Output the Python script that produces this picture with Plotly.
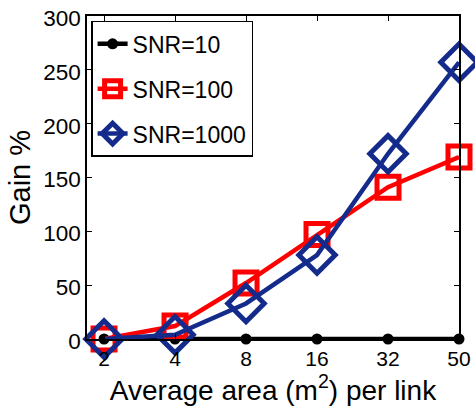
import plotly.graph_objects as go

x_labels = ["2", "4", "8", "16", "32", "50"]
snr10 = [0, 0, 0, 0, 0, 0]
snr100 = [0, 12, 52, 97, 141, 169]
snr1000 = [0, 4, 33, 78, 172, 257]

xi = list(range(1, len(x_labels) + 1))

fig = go.Figure()
fig.add_trace(go.Scatter(
    x=xi, y=snr10, name="SNR=10", mode="lines+markers",
    line=dict(color="black", width=4.5),
    marker=dict(symbol="circle", size=11, color="black"),
    legendgroup="a", cliponaxis=False))
fig.add_trace(go.Scatter(
    x=xi, y=snr100, name="SNR=100", mode="lines+markers",
    line=dict(color="#ff0000", width=4.5),
    marker=dict(symbol="square-open", size=22, color="#ff0000", line=dict(width=5, color="#ff0000")),
    legendgroup="b", cliponaxis=False))
fig.add_trace(go.Scatter(
    x=xi, y=snr1000, name="SNR=1000", mode="lines+markers",
    line=dict(color="#152b8c", width=4.5),
    marker=dict(symbol="diamond-open", size=28, color="#152b8c", line=dict(width=5, color="#152b8c")),
    legendgroup="c", cliponaxis=False))

font_family = "Liberation Sans, Arial, sans-serif"
fig.update_layout(
    width=475, height=406,
    margin=dict(l=87, r=16, t=16, b=67),
    paper_bgcolor="white", plot_bgcolor="white",
    font=dict(family=font_family, size=22, color="black"),
    showlegend=True,
    legend=dict(
        x=0.011, y=0.985, xanchor="left", yanchor="top",
        bgcolor="white", bordercolor="black", borderwidth=1.5,
        font=dict(size=23), traceorder="grouped", tracegroupgap=12,
        itemwidth=30),
    xaxis=dict(
        range=[0.76, 6], tickmode="array", tickvals=xi, ticktext=x_labels,
        showgrid=False, zeroline=False, showline=True, linecolor="black", linewidth=1.5,
        mirror="ticks", ticks="inside", ticklen=5, tickcolor="black", automargin=False,
        ticklabeloverflow="allow",
        title=dict(text="Average area (m<sup>2</sup>) per link", font=dict(size=28), standoff=2),
        tickfont=dict(size=21)),
    yaxis=dict(
        range=[0, 300], tickvals=[0, 50, 100, 150, 200, 250, 300],
        showgrid=False, zeroline=False, showline=True, linecolor="black", linewidth=1.5,
        mirror="ticks", ticks="inside", ticklen=5, tickcolor="black", automargin=False,
        ticklabeloverflow="allow", ticklabelshift=2,
        title=dict(text="Gain %", font=dict(size=29), standoff=4),
        tickfont=dict(size=22.5)),
)

fig.write_html("out.html", config={"displayModeBar": False},
               post_script="document.body.style.margin='0';document.body.style.overflow='hidden';")
